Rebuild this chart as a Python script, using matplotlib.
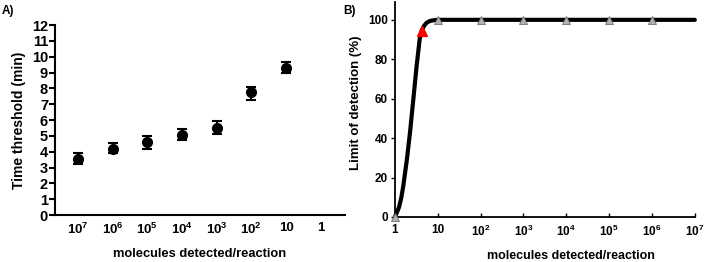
import numpy as np
import matplotlib.pyplot as plt

plt.rcParams['font.family'] = ['Liberation Sans', 'DejaVu Sans']
plt.rcParams['font.weight'] = 'bold'
plt.rcParams['mathtext.fontset'] = 'custom'
plt.rcParams['mathtext.rm'] = 'Liberation Sans:bold'
plt.rcParams['mathtext.default'] = 'rm'

# panel A data
cat_labels = ['$10^7$', '$10^6$', '$10^5$', '$10^4$', '$10^3$', '$10^2$', '10', '1']
tt_mean = [3.55, 4.2, 4.6, 5.05, 5.5, 7.8, 9.3]
tt_err_low = [0.3, 0.3, 0.4, 0.3, 0.4, 0.55, 0.3]
tt_err_high = [0.35, 0.35, 0.4, 0.4, 0.45, 0.3, 0.35]

# panel B data
lod_x = [1, 10, 1e2, 1e3, 1e4, 1e5, 1e6]
lod_y = [0, 100, 100, 100, 100, 100, 100]
red_x = [4.2]
red_y = [94.5]
# curve
curve_x = [1, 1.1, 1.25, 1.4, 1.56, 1.9, 2.24, 2.7, 3.2, 3.8, 4.2, 4.8, 5.5, 6.5, 8, 10, 1e2, 1e4, 1e7]
curve_y = [0, 2, 5, 9.5, 15.4, 29, 42.5, 60, 76.3, 90.5, 94.5, 97, 98.5, 99.4, 99.8, 100, 100, 100, 100]

fig = plt.figure(figsize=(7.09, 2.62), dpi=100)

ax0 = fig.add_axes([0.0776, 0.179, 0.409, 0.725])
x = np.arange(len(tt_mean))
ax0.errorbar(x, tt_mean, yerr=[tt_err_low, tt_err_high], fmt='o', color='black',
             markersize=7, capsize=3.5, elinewidth=1.5, capthick=1.5)
ax0.set_xlim(-0.66, 7.7)
ax0.set_ylim(0, 12)
ax0.set_yticks(range(0, 13))
ax0.set_xticks(range(len(cat_labels)))
ax0.set_xticklabels(cat_labels)
ax0.tick_params(axis='x', length=0, labelsize=9.5, pad=5)
ax0.tick_params(axis='y', length=4, width=1.5, labelsize=10.5, pad=1)
for s in ['top', 'right']:
    ax0.spines[s].set_visible(False)
for s in ['left', 'bottom']:
    ax0.spines[s].set_linewidth(1.5)
ax0.set_ylabel('Time threshold (min)', fontsize=10, fontweight='bold', labelpad=4)
ax0.set_xlabel('molecules detected/reaction', fontsize=9.3, fontweight='bold', labelpad=8)
fig.text(0.003, 0.945, 'A)', fontsize=8.5, fontweight='bold')

ax1 = fig.add_axes([0.557, 0.172, 0.423, 0.82])
ax1.set_xscale('log')
ax1.plot(curve_x, curve_y, color='black', linewidth=3, zorder=2, clip_on=False,
         solid_capstyle='round', solid_joinstyle='round')
ax1.plot(lod_x, lod_y, linestyle='none', marker='^', markersize=6,
         markerfacecolor='#b0b0b0', markeredgecolor='#707070', markeredgewidth=0.6,
         zorder=3, clip_on=False)
ax1.plot(red_x, red_y, linestyle='none', marker='^', markersize=7,
         color='red', zorder=4)
ax1.set_xlim(1, 1e7)
ax1.set_ylim(0, 109)
ax1.set_yticks(range(0, 101, 20))
ax1.set_xticks([1, 10, 1e2, 1e3, 1e4, 1e5, 1e6, 1e7])
ax1.set_xticklabels(['1', '10', '$10^2$', '$10^3$', '$10^4$', '$10^5$', '$10^6$', '$10^7$'])
ax1.xaxis.set_minor_locator(plt.NullLocator())
ax1.tick_params(axis='x', direction='in', length=3, width=1, labelsize=8.5, pad=5)
ax1.tick_params(axis='y', direction='out', length=3, width=1, labelsize=8.5, pad=2)
for s in ['top', 'right']:
    ax1.spines[s].set_visible(False)
for s in ['left', 'bottom']:
    ax1.spines[s].set_linewidth(1.3)
ax1.set_ylabel('Limit of detection (%)', fontsize=9.5, fontweight='bold')
ax1.yaxis.set_label_coords(-0.11, 0.53)
ax1.set_xlabel('molecules detected/reaction', fontsize=9, fontweight='bold', labelpad=7)
ax1.xaxis.set_label_coords(0.587, -0.155)
fig.text(0.484, 0.945, 'B)', fontsize=8.5, fontweight='bold')

fig.savefig('out.png', dpi=100)
